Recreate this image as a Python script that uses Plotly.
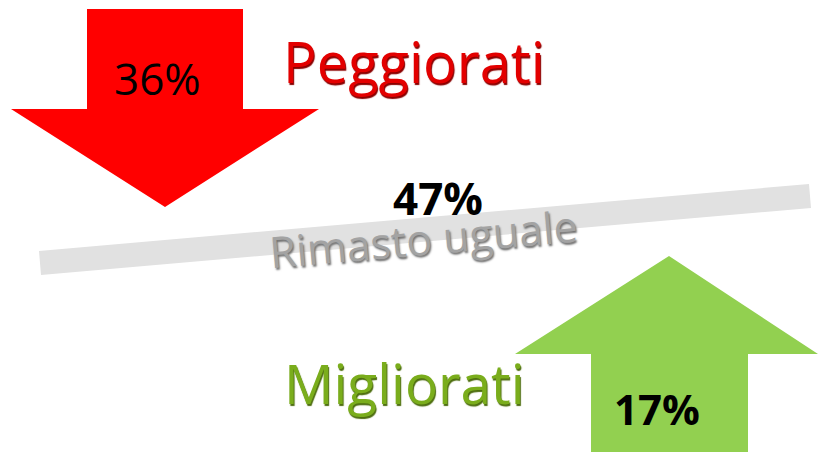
import plotly.graph_objects as go

# ---- data ----
categories = ["Peggiorati", "Rimasto uguale", "Migliorati"]
values = [36, 47, 17]
labels = [f"{v}%" for v in values]

# ---- styling / geometry (pixel space) ----
W, H = 818, 452
red = "#ff0000"
green = "#92d050"
band_col = "#e1e1e1"

def down_arrow(x0, x1, top, hx0, hx1, hy, tipx, tip):
    xs = [x0, x1, x1, hx1, tipx, hx0, x0, x0]
    ys = [top, top, hy, hy, tip, hy, hy, top]
    return xs, ys

def up_arrow(x0, x1, bottom, hx0, hx1, hy, tipx, tip):
    xs = [x0, x1, x1, hx1, tipx, hx0, x0, x0]
    ys = [bottom, bottom, hy, hy, tip, hy, hy, bottom]
    return xs, ys

fig = go.Figure()

# grey band
fig.add_trace(go.Scatter(x=[39, 809, 811, 41, 39], y=[251, 184, 208, 275, 251],
                         fill="toself", fillcolor=band_col, mode="lines",
                         line=dict(width=0, color=band_col), hoverinfo="skip"))
# red arrow
rx, ry = down_arrow(87, 243, 9, 11, 319, 109, 165, 207)
fig.add_trace(go.Scatter(x=rx, y=ry, fill="toself", fillcolor=red, mode="lines",
                         line=dict(width=0, color=red), hoverinfo="skip"))
# green arrow
gx, gy = up_arrow(748, 591, 460, 818, 515, 354, 669, 256)
fig.add_trace(go.Scatter(x=gx, y=gy, fill="toself", fillcolor=green, mode="lines",
                         line=dict(width=0, color=green), hoverinfo="skip"))

font = "Open Sans, sans-serif"
ann = []
# category titles
ann.append(dict(x=414, y=61, text=categories[0], font=dict(family=font, size=56, color="#e30000",
                shadow="1px 2px 1px #8a0000")))
ann.append(dict(x=404, y=382, text=categories[2], font=dict(family=font, size=55, color="#7aad1c",
                shadow="1px 2px 1px #4e6e10")))
ann.append(dict(x=423, y=238, text=categories[1], textangle=-5,
                font=dict(family=font, size=43, color="#a3a3a3", shadow="1px 2px 2px #6e6e6e")))
# values
ann.append(dict(x=157, y=78, text=labels[0],
                font=dict(family=font, size=44, color="#000000", weight=500)))
ann.append(dict(x=438, y=198, text=labels[1],
                font=dict(family=font, size=44, color="#000000", weight="bold")))
ann.append(dict(x=657, y=408, text=labels[2],
                font=dict(family=font, size=42, color="#000000", weight="bold")))
for a in ann:
    a.update(xref="x", yref="y", showarrow=False, xanchor="center", yanchor="middle")

fig.update_layout(
    width=W, height=H, margin=dict(l=0, r=0, t=0, b=0),
    paper_bgcolor="white", plot_bgcolor="white", showlegend=False,
    xaxis=dict(range=[0, W], visible=False, fixedrange=True),
    yaxis=dict(range=[H, 0], visible=False, fixedrange=True),
    annotations=ann,
)
fig.write_html("out.html", config={"displayModeBar": False},
               post_script="document.body.style.margin='0';document.body.style.overflow='hidden';")
